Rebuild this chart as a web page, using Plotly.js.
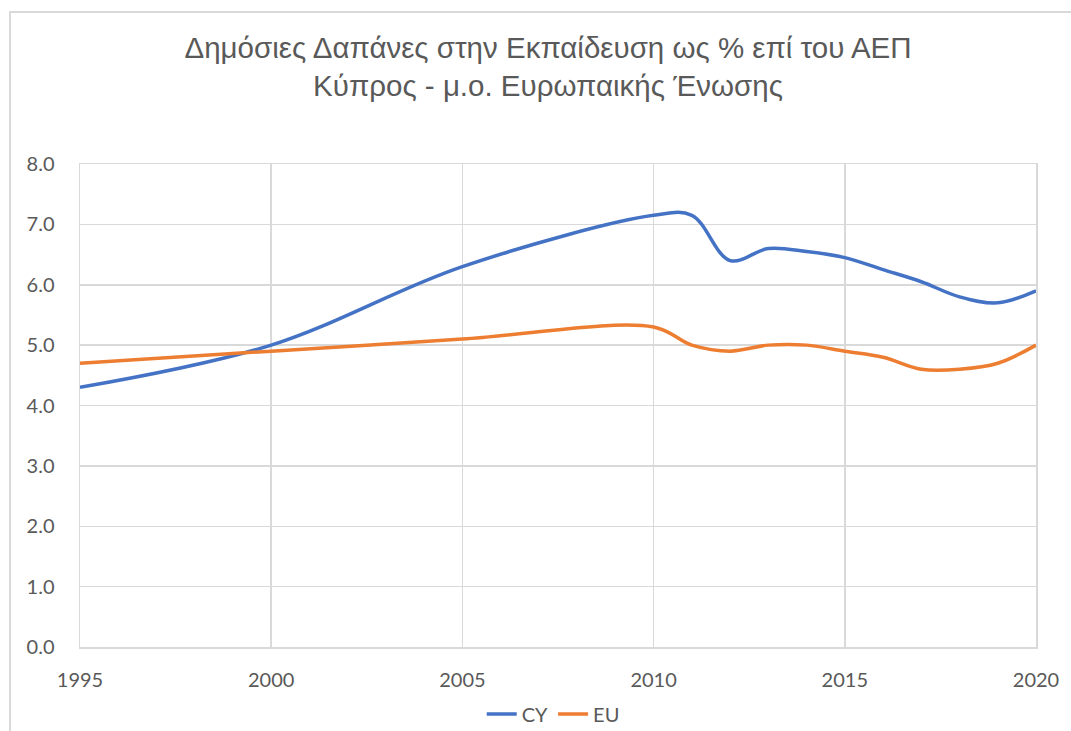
<!DOCTYPE html>
<html>
<head>
<meta charset="utf-8">
<script src="https://cdn.plot.ly/plotly-3.0.1.min.js"></script>
<style>
  html, body { margin: 0; padding: 0; background: #ffffff; overflow: hidden; }
  #chart { position: absolute; left: 0; top: 0; width: 1071px; height: 731px; }
  #frame { position: absolute; left: 9px; top: 11px; width: 1100px; height: 800px;
           border-left: 2px solid #d9d9d9; border-top: 2px solid #d9d9d9; pointer-events: none; }
</style>
</head>
<body>
<div id="chart"></div>
<div id="frame"></div>
<script>
// Data
const years = [1995, 2000, 2005, 2010, 2011, 2012, 2013, 2014, 2015, 2016, 2017, 2018, 2019, 2020];
const cyValues = [4.3, 5.0, 6.3, 7.15, 7.15, 6.4, 6.6, 6.55, 6.45, 6.25, 6.05, 5.8, 5.7, 5.9];
const euValues = [4.7, 4.9, 5.1, 5.3, 5.0, 4.9, 5.0, 5.0, 4.9, 4.8, 4.6, 4.6, 4.7, 5.0];
const seriesNames = ['CY', 'EU'];
const titleLines = ['Δημόσιες Δαπάνες στην Εκπαίδευση ως % επί του ΑΕΠ', 'Κύπρος - μ.ο. Ευρωπαικής Ένωσης'];

const tickFont = { family: 'Lato, "Open Sans", sans-serif', size: 20, color: '#595959' };

const traces = [
  { x: years, y: cyValues, name: seriesNames[0], type: 'scatter', mode: 'lines',
    line: { color: '#4472C4', width: 3.5, shape: 'spline', smoothing: 1 } },
  { x: years, y: euValues, name: seriesNames[1], type: 'scatter', mode: 'lines',
    line: { color: '#ED7D31', width: 3.5, shape: 'spline', smoothing: 1 } }
];

const layout = {
  width: 1071, height: 731,
  paper_bgcolor: 'rgba(0,0,0,0)', plot_bgcolor: '#ffffff',
  margin: { l: 80, r: 35, t: 164, b: 84, autoexpand: false },
  title: {
    text: titleLines.join('<br>'),
    font: { family: '"Liberation Sans", Arial, sans-serif', size: 29.5, color: '#595959' },
    xref: 'container', x: 0.5117, xanchor: 'center',
    yref: 'container', y: 0.921, yanchor: 'top'
  },
  xaxis: {
    range: [1995, 2020], tick0: 1995, dtick: 5, tickformat: 'd',
    showgrid: true, gridcolor: '#d9d9d9', gridwidth: 1.5,
    showline: true, mirror: true, linecolor: '#d9d9d9', linewidth: 1.5,
    zeroline: false, ticks: 'outside', ticklen: 14, tickcolor: 'rgba(0,0,0,0)',
    tickfont: tickFont, fixedrange: true, automargin: false
  },
  yaxis: {
    range: [0, 8], tick0: 0, dtick: 1, tickformat: '.1f',
    showgrid: true, gridcolor: '#d9d9d9', gridwidth: 1.5,
    showline: true, mirror: true, linecolor: '#d9d9d9', linewidth: 1.5,
    zeroline: false, ticks: 'outside', ticklen: 20, tickcolor: 'rgba(0,0,0,0)',
    tickfont: tickFont, fixedrange: true, automargin: false
  },
  showlegend: true,
  legend: {
    orientation: 'h', x: 0.495, xanchor: 'center',
    yref: 'container', y: 0.0233, yanchor: 'middle',
    font: tickFont, bgcolor: 'rgba(0,0,0,0)'
  }
};

Plotly.newPlot('chart', traces, layout, { displayModeBar: false, staticPlot: true });
</script>
</body>
</html>
